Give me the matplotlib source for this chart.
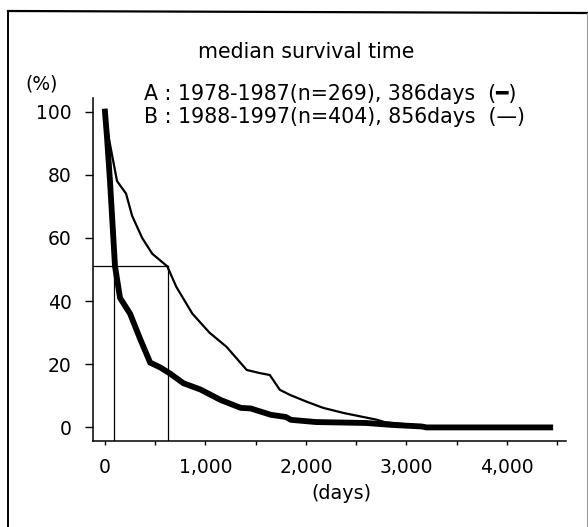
import matplotlib
matplotlib.use("Agg")
import matplotlib.pyplot as plt
from matplotlib.lines import Line2D
from matplotlib.ticker import FixedLocator

# curve A : 1978-1987 (thick)
a_days = [0, 20, 50, 100, 150, 250, 350, 450, 550, 650, 780, 950, 1150, 1350,
          1450, 1550, 1650, 1800, 1850, 2100, 2600, 2850, 3150, 3200, 4430]
a_surv = [100, 92, 78, 51, 41, 36, 28, 20.5, 19, 17, 14, 12, 8.7, 6.2,
          6, 5, 4, 3.3, 2.4, 1.7, 1.4, 0.8, 0.3, 0, 0]

# curve B : 1988-1997 (thin)
b_days = [0, 30, 120, 210, 270, 370, 470, 620, 710, 870, 1040, 1210, 1410, 1540,
          1640, 1740, 1840, 2010, 2170, 2370, 2570, 2710, 2780, 3150, 3200, 4430]
b_surv = [100, 93, 78, 74, 67, 60, 55, 51, 44.5, 36, 30, 25.5, 18.2, 17.2,
          16.6, 11.9, 10.3, 8.1, 6.2, 4.6, 3.3, 2.4, 1.7, 0.5, 0, 0]

# median marker lines as drawn in the figure
median_level = 51
median_a = 90
median_b = 630

xticks = [0, 1000, 2000, 3000, 4000]
xlabels = ["0", "1,000", "2,000", "3,000", "4,000"]
xminor = [500, 1500, 2500, 3500, 4500]
yticks = [0, 20, 40, 60, 80, 100]

W, H = 588, 527
fig = plt.figure(figsize=(W / 100, H / 100), dpi=100)
plt.rcParams['font.family'] = ['DejaVu Sans']

ax = fig.add_axes([92.5 / W, 1 - 441 / H, (566 - 92.5) / W, (441 - 98) / H])
ax.set_xlim(-124, 4587)
ax.set_ylim(-4.3, 104.3)

ax.plot(b_days, b_surv, color='black', lw=1.6, solid_joinstyle='miter')
ax.plot(a_days, a_surv, color='black', lw=4.2, solid_joinstyle='miter')

ax.plot([-124, median_b], [median_level, median_level], color='black', lw=0.9)
ax.plot([median_a, median_a], [-4.3, median_level], color='black', lw=0.9)
ax.plot([median_b, median_b], [-4.3, median_level], color='black', lw=0.9)

for s in ['top', 'right']:
    ax.spines[s].set_visible(False)
for s in ['left', 'bottom']:
    ax.spines[s].set_linewidth(1.1)

ax.set_yticks(yticks)
ax.set_yticklabels([str(v) for v in yticks])
ax.set_xticks(xticks)
ax.set_xticklabels(xlabels)
ax.xaxis.set_minor_locator(FixedLocator(xminor))
ax.tick_params(axis='y', length=6, width=1, pad=9, labelsize=13.5)
ax.tick_params(axis='x', which='both', length=3, width=1, pad=9, labelsize=13.5)

ax.text(2350, -21, "(days)", ha='center', va='center', fontsize=13.8)
fig.text(42 / W, 1 - 84 / H, "(%)", ha='center', va='center', fontsize=13.5)

fig.text(306 / W, 1 - 52 / H, "median survival time", ha='center', va='center', fontsize=14.8)
fig.text(144 / W, 1 - 94 / H, "A : 1978-1987(n=269), 386days  (━)",
         ha='left', va='center', fontsize=14.8)
fig.text(144 / W, 1 - 117 / H, "B : 1988-1997(n=404), 856days  (—)",
         ha='left', va='center', fontsize=14.8)

# outer frame of the scanned figure (left and top edges, faint right edge)
fig.add_artist(Line2D([8 / W, 8 / W], [0, 1 - 11 / H], transform=fig.transFigure,
                      color='black', lw=1.4))
fig.add_artist(Line2D([8 / W, 1], [1 - 11 / H, 1 - 13 / H], transform=fig.transFigure,
                      color='black', lw=1.6))
fig.add_artist(Line2D([586.5 / W, 586.5 / W], [0, 1 - 13 / H], transform=fig.transFigure,
                      color='0.6', lw=0.8))

fig.savefig("out.png", dpi=100)
